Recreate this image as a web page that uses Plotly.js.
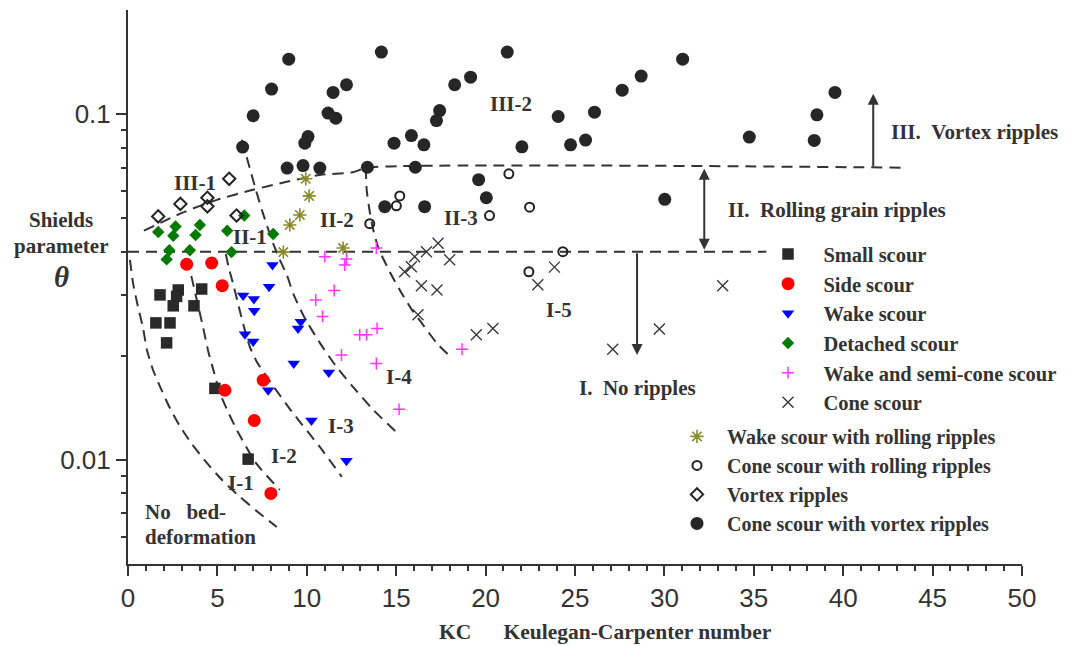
<!DOCTYPE html>
<html>
<head>
<meta charset="utf-8">
<script src="https://cdn.plot.ly/plotly-3.0.1.min.js"></script>
<style>html,body{margin:0;padding:0;background:#fff;}#chart{width:1071px;height:646px;}</style>
</head>
<body>
<div id="chart"></div>
<script>
// ---- data (KC, theta) ----
const smallKC = [1.79,2.81,2.72,2.53,4.12,3.69,1.56,2.35,2.16,4.86,6.72];
const smallTH = [0.0300,0.0310,0.0297,0.0279,0.0312,0.0279,0.0249,0.0249,0.0218,0.0161,0.01005];

const sideKC = [3.28,4.68,5.27,7.56,5.42,7.06,7.99];
const sideTH = [0.0368,0.0371,0.0319,0.0170,0.0159,0.0130,0.0080];

const wakeKC = [8.08,7.89,6.44,7.04,7.06,9.66,9.51,6.54,7.00,9.27,11.23,7.84,10.26,12.22];
const wakeTH = [0.0366,0.0317,0.0299,0.0292,0.0270,0.0251,0.0240,0.0231,0.0220,0.0190,0.0179,0.0159,0.0130,0.00995];

const detachedKC = [1.69,2.66,2.53,4.02,3.78,5.55,6.50,8.12,2.31,2.16,3.46,5.79];
const detachedTH = [0.0456,0.0473,0.0445,0.0478,0.0447,0.0460,0.0509,0.0450,0.0404,0.0380,0.0404,0.0399];

const semiConeKC = [11.01,12.22,12.12,13.89,11.53,10.50,10.88,12.96,13.34,13.93,11.94,13.89,15.16,18.68];
const semiConeTH = [0.0387,0.0381,0.0366,0.0410,0.0309,0.0290,0.0260,0.0230,0.0230,0.0240,0.0201,0.0190,0.0140,0.0209];

const coneKC = [17.34,16.69,16.03,15.85,15.47,17.99,16.41,17.28,16.22,19.48,20.41,22.92,23.85,27.11,29.72,33.26];
const coneTH = [0.0423,0.0400,0.0387,0.0362,0.0350,0.0379,0.0319,0.0310,0.0263,0.0230,0.0240,0.0321,0.0361,0.0209,0.0239,0.0319];

const wakeRollKC = [9.94,10.13,9.61,9.05,8.69,12.03];
const wakeRollTH = [0.0650,0.0580,0.0511,0.0478,0.0399,0.0410];

const coneRollKC = [21.30,15.20,15.01,20.22,22.46,13.52,24.32,22.42];
const coneRollTH = [0.0672,0.0580,0.0543,0.0509,0.0538,0.0482,0.0400,0.0350];

const vortexKC = [1.69,2.93,4.44,4.44,5.66,6.07];
const vortexTH = [0.0506,0.0550,0.0573,0.0541,0.0650,0.0509];

const coneVortexKC = [8.99,8.03,7.00,6.41,12.22,11.47,11.19,11.62,10.07,9.89,8.90,9.79,10.73,14.17,21.21,19.16,18.27,17.43,17.25,15.85,14.88,16.55,24.06,26.09,27.64,28.70,31.02,24.75,25.59,22.03,13.39,16.07,19.61,20.04,14.36,16.59,30.02,39.54,38.53,38.38,34.75];
const coneVortexTH = [0.1442,0.1181,0.0989,0.0803,0.1216,0.1155,0.1007,0.0973,0.0861,0.0824,0.0698,0.0710,0.0698,0.1511,0.1511,0.1279,0.1216,0.1024,0.0958,0.0867,0.0824,0.0815,0.0984,0.1013,0.1173,0.1288,0.1442,0.0815,0.0841,0.0804,0.0702,0.0702,0.0646,0.0573,0.0540,0.0540,0.0567,0.1155,0.0995,0.0839,0.0858];

// ---- regime boundaries ----
const upperKC = [0.89,3.02,4.97,6.98,8.88,10.73,12.57,13.41,43.41];
const upperTH = [0.0460,0.0518,0.0565,0.0604,0.0637,0.0667,0.0679,0.0700,0.0700];
const lowerKC = [0, 35.7];
const lowerTH = [0.04, 0.04];
const b45KC = [13.30,13.35,13.52,13.69,14.02,14.64,15.20,15.87,16.42,17.26,17.93];
const b45TH = [0.0699,0.0604,0.0522,0.0469,0.0408,0.0350,0.0310,0.0272,0.0249,0.0218,0.0201];
const b34KC = [6.37,6.76,7.15,7.54,8.04,8.44,8.88,9.27,9.89,10.73,11.62,12.57,13.69,15.03];
const b34TH = [0.0843,0.0713,0.0604,0.0518,0.0433,0.0384,0.0343,0.0300,0.0257,0.0218,0.0187,0.0163,0.0140,0.0120];
const b23KC = [5.47,5.64,5.92,6.20,6.48,6.82,7.21,7.93,9.16,10.73,11.96];
const b23TH = [0.0394,0.0359,0.0317,0.0277,0.0243,0.0212,0.0192,0.0169,0.0138,0.0109,0.00893];
const b12KC = [3.30,3.46,3.63,3.91,4.19,4.47,4.80,5.14,5.59,6.09,7.15,8.49];
const b12TH = [0.0382,0.0354,0.0325,0.0281,0.0243,0.0208,0.0180,0.0156,0.0138,0.0122,0.0098,0.00819];
const b01KC = [0.11,0.28,0.56,0.84,1.06,1.40,1.79,2.35,2.91,3.58,4.41,5.25,6.26,7.26,8.32];
const b01TH = [0.0379,0.0325,0.0277,0.0241,0.0208,0.0182,0.0163,0.0141,0.0125,0.0111,0.0098,0.00876,0.00782,0.00707,0.0064];

// ---- tick labels ----
const xTickVals = [0,5,10,15,20,25,30,35,40,45,50];
const yTickVals = [0.01, 0.1];
const yTickText = ['0.01', '0.1'];
const yMinorVals = [0.006,0.007,0.008,0.009,0.02,0.03,0.04,0.05,0.06,0.07,0.08,0.09];

const INK = '#333333';
const SERIF = 'Liberation Serif, Times New Roman, serif';
const SANS = 'Liberation Sans, Arial, sans-serif';
const NB = '\u00a0';

function boundary(x, y) {
  return {x: x, y: y, type: 'scatter', mode: 'lines', showlegend: false, hoverinfo: 'skip',
          line: {color: INK, width: 2, dash: '11px,7px', shape: 'spline', smoothing: 0.6}};
}
function pts(name, x, y, marker, legend) {
  return {x: x, y: y, type: 'scatter', mode: 'markers', name: name, marker: marker, legend: legend};
}

const traces = [
  boundary(upperKC, upperTH), boundary(lowerKC, lowerTH), boundary(b45KC, b45TH),
  boundary(b34KC, b34TH), boundary(b23KC, b23TH), boundary(b12KC, b12TH), boundary(b01KC, b01TH),
  pts(NB+NB+NB+'Small scour', smallKC, smallTH, {symbol: 'square', size: 11.5, color: '#2a2a2a'}, 'legend'),
  pts(NB+NB+NB+'Side scour', sideKC, sideTH, {symbol: 'circle', size: 13, color: '#ff0000'}, 'legend'),
  pts(NB+NB+NB+'Wake scour', wakeKC, wakeTH, {symbol: 'triangle-down', size: 11, color: '#0000ff'}, 'legend'),
  pts(NB+NB+NB+'Detached scour', detachedKC, detachedTH, {symbol: 'diamond', size: 9.5, color: '#007a00'}, 'legend'),
  pts(NB+NB+NB+'Wake and semi-cone scour', semiConeKC, semiConeTH, {symbol: 'cross-thin-open', size: 8.5, color: '#ff33ff', line: {color: '#ff33ff', width: 1.5}}, 'legend'),
  pts(NB+NB+NB+'Cone scour', coneKC, coneTH, {symbol: 'x-thin-open', size: 11, color: '#333333', line: {color: '#333333', width: 1.3}}, 'legend'),
  pts(NB+NB+'Wake scour with rolling ripples', wakeRollKC, wakeRollTH, {symbol: 'asterisk-open', size: 11, color: '#8a8a26', line: {color: '#8a8a26', width: 1.6}}, 'legend2'),
  pts(NB+NB+'Cone scour with rolling ripples', coneRollKC, coneRollTH, {symbol: 'circle-open', size: 9, color: '#222222', line: {color: '#222222', width: 2}}, 'legend2'),
  pts(NB+NB+'Vortex ripples', vortexKC, vortexTH, {symbol: 'diamond-open', size: 9.5, color: '#222222', line: {color: '#222222', width: 2}}, 'legend2'),
  pts(NB+NB+'Cone scour with vortex ripples', coneVortexKC, coneVortexTH, {symbol: 'circle', size: 13, color: '#262626'}, 'legend2')
];

function label(text, x, ly, anchor, size, style) {
  return {text: text, x: x, y: ly, xref: 'x', yref: 'y', showarrow: false, xanchor: anchor || 'center',
          yanchor: 'middle', font: {family: SERIF, size: size || 21, color: INK, weight: 'bold', style: style || 'normal'}};
}
function arrow(x, yHead, yTail, side) {
  return {x: x, y: yHead, ax: x, ay: yTail, xref: 'x', yref: 'y', axref: 'x', ayref: 'y', text: '',
          showarrow: true, arrowhead: 2, arrowsize: 1.1, arrowwidth: 2, arrowcolor: INK,
          arrowside: side || 'end', standoff: 0, startstandoff: 0, startarrowhead: 2, startarrowsize: 1.1};
}
function plabel(text, xp, yp, size, style, anchor) {
  return {text: text, x: xp, y: yp, xref: 'paper', yref: 'paper', showarrow: false, xanchor: anchor || 'center',
          yanchor: 'middle', font: {family: SERIF, size: size || 21, color: INK, weight: 'bold', style: style || 'normal'}};
}

const annotations = [
  label('III-1', 3.77, -1.198), label('II-1', 6.82, -1.354), label('II-2', 11.68, -1.306),
  label('III-2', 21.40, -0.970), label('II-3', 18.60, -1.301), label('I-5', 24.08, -1.566),
  label('I-4', 15.14, -1.759), label('I-3', 11.90, -1.902), label('I-2', 8.72, -1.988),
  label('I-1', 6.31, -2.067),
  label('No' + NB + NB + NB + 'bed-', 0.84, -2.150, 'left'),
  label('deformation', 0.84, -2.222, 'left'),
  label('I.' + NB + NB + 'No ripples', 28.49, -1.793),
  label('II.' + NB + NB + 'Rolling grain ripples', 33.45, -1.277, 'left'),
  label('III.' + NB + NB + 'Vortex ripples', 42.57, -1.053, 'left'),
  arrow(28.47, Math.log10(0.0201), Math.log10(0.04), 'end'),
  arrow(32.23, Math.log10(0.0695), Math.log10(0.0401), 'end+start'),
  arrow(41.68, Math.log10(0.1145), Math.log10(0.0700), 'end'),
  plabel('Shields', -0.0749, 0.621), plabel('parameter', -0.0754, 0.574),
  plabel('\u03b8', -0.0749, 0.518, 29, 'italic'),
  // x-axis title (placed as text to match the off-centre position)
  plabel('KC' + NB.repeat(6) + 'Keulegan-Carpenter number', 0.5341, -0.1227, 21.5)
];

const layout = {
  width: 1071, height: 646,
  margin: {l: 128, r: 48, t: 10, b: 82},
  paper_bgcolor: '#ffffff', plot_bgcolor: '#ffffff',
  showlegend: true,
  xaxis: {
    range: [0, 50], tickmode: 'array', tickvals: xTickVals, ticks: 'outside', ticklen: 10, tickwidth: 2,
    tickcolor: INK, showline: true, linecolor: INK, linewidth: 2, showgrid: false, zeroline: false,
    tickfont: {family: SANS, size: 26, color: INK},
    minor: {dtick: 1, tick0: 0, ticks: 'outside', ticklen: 5, tickwidth: 1.5, tickcolor: INK, showgrid: false},
    title: {text: ''}
  },
  yaxis: {
    type: 'log', range: [Math.log10(0.005), Math.log10(0.2)], tickmode: 'array', tickvals: yTickVals,
    ticktext: yTickText, ticks: 'outside', ticklen: 10, tickwidth: 2, tickcolor: INK, showline: true,
    linecolor: INK, linewidth: 2, showgrid: false, zeroline: false,
    tickfont: {family: SANS, size: 26, color: INK},
    minor: {tickmode: 'array', tickvals: yMinorVals, ticks: 'outside', ticklen: 5, tickwidth: 1.5, tickcolor: INK, showgrid: false},
    title: {text: ''}
  },
  legend: {x: 0.7151, y: 0.5953, xanchor: 'left', yanchor: 'top', bgcolor: 'rgba(0,0,0,0)', borderwidth: 0,
           traceorder: 'normal', font: {family: SERIF, size: 20.5, color: INK, weight: 'bold'}},
  legend2: {x: 0.6134, y: 0.2655, xanchor: 'left', yanchor: 'top', bgcolor: 'rgba(0,0,0,0)', borderwidth: 0,
           traceorder: 'normal', font: {family: SERIF, size: 20, color: INK, weight: 'bold'}},
  annotations: annotations
};

Plotly.newPlot('chart', traces, layout, {displayModeBar: false, responsive: false});
</script>
</body>
</html>
